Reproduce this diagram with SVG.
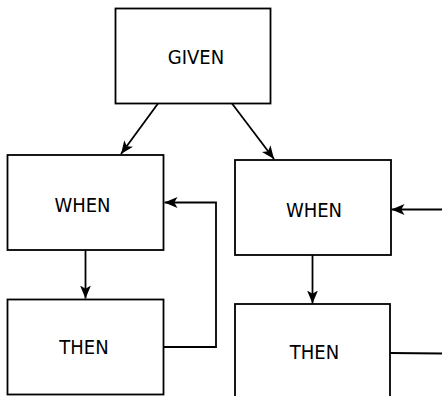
<svg xmlns="http://www.w3.org/2000/svg" width="442" height="396" viewBox="0 0 442 396">
<style>
.box{fill:#fff;stroke:#000;stroke-width:1.8}
.lbl{font-family:"DejaVu Sans Condensed","DejaVu Sans",Verdana,sans-serif;font-stretch:condensed;font-size:20px;fill:#000;text-anchor:middle}
.edge{fill:none;stroke:#000;stroke-width:1.8}
</style>
<defs>
<marker id="arr" viewBox="0 0 12 10" refX="12" refY="5" markerWidth="13" markerHeight="11" markerUnits="userSpaceOnUse" orient="auto">
<path d="M0,0 L12,5 L0,10 L3,5 Z" fill="#000"/>
</marker>
</defs>
<rect width="442" height="396" fill="#fff"/>
<g id="given"><rect class="box" x="115.5" y="8.5" width="155" height="95"/><text class="lbl" x="196" y="64">GIVEN</text></g>
<g id="when1"><rect class="box" x="7.5" y="155" width="156" height="95"/><text class="lbl" x="82.5" y="211.5">WHEN</text></g>
<g id="then1"><rect class="box" x="7.5" y="299.5" width="156" height="95"/><text class="lbl" x="84" y="354">THEN</text></g>
<g id="when2"><rect class="box" x="235" y="160" width="156" height="95"/><text class="lbl" x="314" y="216.5">WHEN</text></g>
<g id="then2"><rect class="box" x="235" y="304" width="155" height="100"/><text class="lbl" x="314.5" y="359">THEN</text></g>
<g id="connectors">
<path class="edge" d="M158,103.5 L121,154" marker-end="url(#arr)"/>
<path class="edge" d="M232,103.5 L274,159" marker-end="url(#arr)"/>
<path class="edge" d="M85.5,250 L85.5,298.5" marker-end="url(#arr)"/>
<path class="edge" d="M163.5,347 H216 V202.5 H164.5" marker-end="url(#arr)"/>
<path class="edge" d="M312.5,255 L312.5,303.5" marker-end="url(#arr)"/>
<path class="edge" d="M442,209.5 L391.5,209.5" marker-end="url(#arr)"/>
<path class="edge" d="M390,353 L442,353.5"/>
</g>
</svg>
